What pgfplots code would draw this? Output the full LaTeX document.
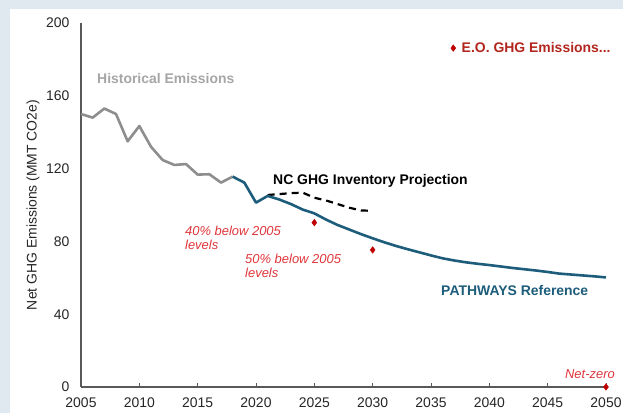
\documentclass[border=0pt]{standalone}
\usepackage{fontspec}
\setmainfont{Liberation Sans}
\usepackage{pgfplots}
\pgfplotsset{compat=1.18}
\definecolor{bgc}{HTML}{DFE9EF}
\definecolor{axc}{HTML}{595959}
\definecolor{tickc}{HTML}{262626}
\definecolor{histc}{HTML}{8E8E8E}
\definecolor{histtext}{HTML}{A6A6A6}
\definecolor{pathc}{HTML}{1D5D7B}
\definecolor{mkred}{HTML}{C00000}
\definecolor{annred}{HTML}{E0363B}
\definecolor{eotext}{HTML}{B3261E}
\begin{document}
\begin{tikzpicture}
\fill[bgc] (0,0) rectangle (623bp,413bp);
\fill[white] (10bp,0) rectangle (623bp,404bp);
\begin{axis}[
  at={(81bp,26bp)}, anchor=south west,
  scale only axis, width=525bp, height=364bp,
  xmin=2005, xmax=2050, ymin=0, ymax=200,
  axis x line=bottom, axis y line=left,
  axis line style={-, line width=1.2bp, draw=axc},
  xtick={2005,2010,...,2050}, ytick={0,40,...,200},
  tick align=inside, major tick length=4bp,
  xtick style={draw=axc, line width=1bp},
  ytick style={draw=none},
  /pgf/number format/assume math mode=true,
  /pgf/number format/1000 sep={},
  ticklabel style={font=\fontsize{14}{16}\selectfont, text=tickc},
  x tick label style={yshift=-7bp},
  y tick label style={xshift=-8bp},
  ylabel={Net GHG Emissions (MMT CO2e)},
  ylabel style={at={(rel axis cs:0,0.5)}, anchor=center, yshift=48bp,
    font=\fontsize{14}{16}\selectfont, text=tickc},
  clip=false,
  legend style={at={(rel axis cs:0.704,0.931)}, anchor=west, draw=none, fill=none,
    inner sep=0pt, font=\bfseries\fontsize{14}{16}\selectfont, text=eotext,
    /tikz/every odd column/.append style={column sep=4bp}},
  legend image code/.code={\draw[#1] plot coordinates {(0bp,0bp)};},
]
\addplot[forget plot, histc, line width=2.6bp, line join=round] coordinates {
(2005,150) (2006,148) (2007,153) (2008,150) (2009,135) (2010,143.4)
(2011,132) (2012,124.7) (2013,122) (2014,122.5) (2015,116.7) (2016,116.9)
(2017,112.3) (2018,115.6)};
\addplot[forget plot, black, line width=2.2bp, dash pattern=on 7bp off 5bp] coordinates {
(2021,105.5) (2022,106) (2023,106.5) (2024,106.8) (2025,104) (2026,102.5)
(2027,100.5) (2028,98.5) (2029,97) (2030,96.8)};
\addplot[forget plot, pathc, line width=2.6bp, line join=round] coordinates {
(2018,115.6) (2019,112.3) (2020,101.3) (2021,105) (2022,103) (2023,100.5)
(2024,97.5) (2025,95.4) (2026,92) (2027,89) (2028,86.5) (2029,84) (2030,81.7)
(2031,79.5) (2032,77.5) (2033,75.7) (2034,74) (2035,72.3) (2036,70.7)
(2037,69.5) (2038,68.5) (2039,67.7) (2040,67) (2041,66.2) (2042,65.4)
(2043,64.7) (2044,64) (2045,63.2) (2046,62.3) (2047,61.8) (2048,61.3)
(2049,60.8) (2050,60.2)};
\addplot[only marks, mark=diamond*, mark size=3.3bp, mkred] coordinates {
(2025,90.3) (2030,75.3) (2050,0)};
\addlegendentry{E.O. GHG Emissions...}
\node[anchor=base west, inner sep=0, text=histtext, font=\bfseries\fontsize{14}{16}\selectfont] at (axis cs:2006.37,167.0) {Historical Emissions};
\node[anchor=base west, inner sep=0, text=black, font=\bfseries\fontsize{14}{16}\selectfont] at (axis cs:2021.46,111.0) {NC GHG Inventory Projection};
\node[anchor=base west, inner sep=0, text=pathc, font=\bfseries\fontsize{14}{16}\selectfont] at (axis cs:2035.86,50.0) {PATHWAYS Reference};
\node[anchor=base west, inner sep=0, text=annred, font=\itshape\fontsize{13}{15}\selectfont] at (axis cs:2013.91,83.5) {40\% below 2005};
\node[anchor=base west, inner sep=0, text=annred, font=\itshape\fontsize{13}{15}\selectfont] at (axis cs:2013.91,75.3) {levels};
\node[anchor=base west, inner sep=0, text=annred, font=\itshape\fontsize{13}{15}\selectfont] at (axis cs:2019.06,67.6) {50\% below 2005};
\node[anchor=base west, inner sep=0, text=annred, font=\itshape\fontsize{13}{15}\selectfont] at (axis cs:2019.06,59.9) {levels};
\node[anchor=base east, inner sep=0, text=annred, font=\itshape\fontsize{13}{15}\selectfont] at (axis cs:2050.77,4.9) {Net-zero};
\end{axis}
\pgfresetboundingbox
\useasboundingbox (0,0) rectangle (623bp,413bp);
\end{tikzpicture}
\end{document}
